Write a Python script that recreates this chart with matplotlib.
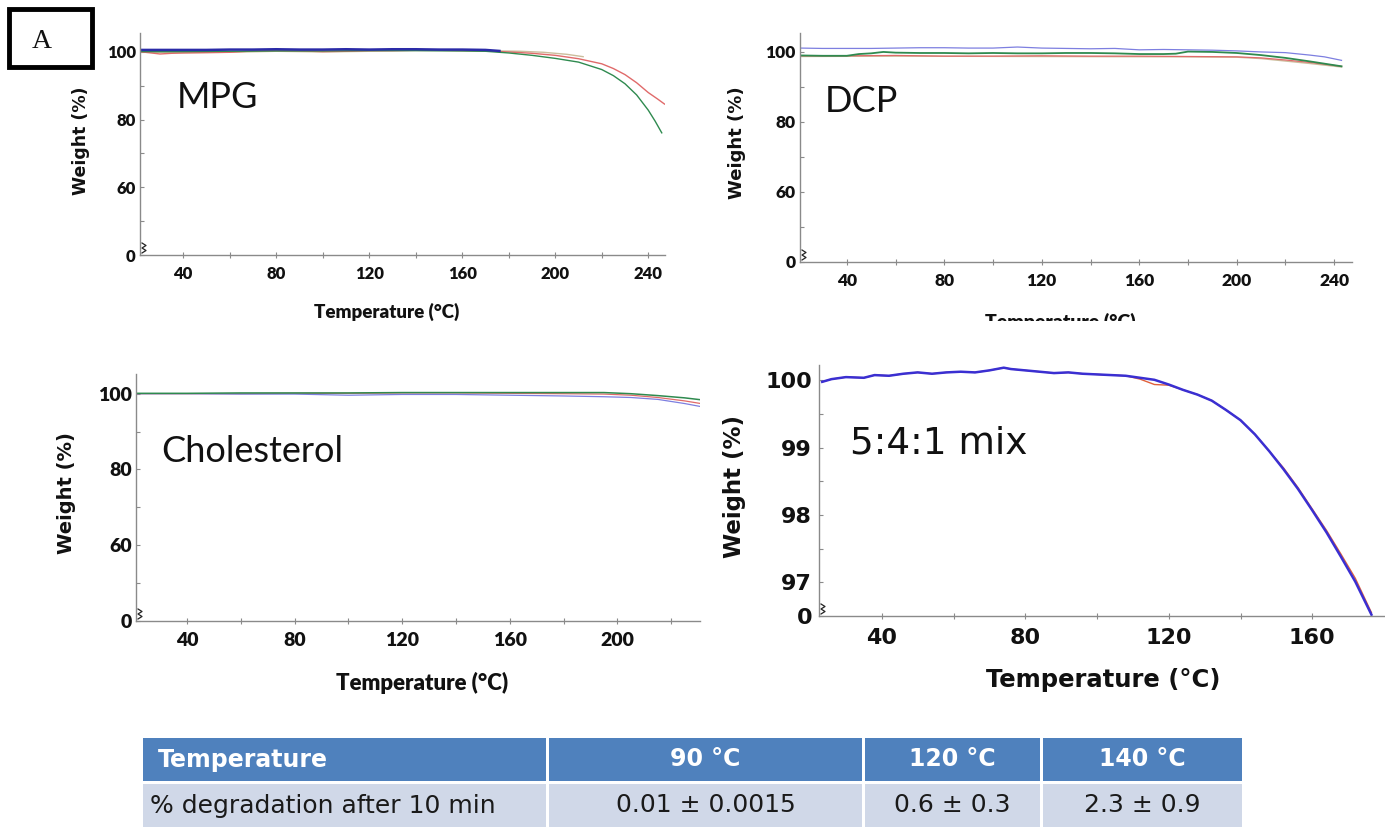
import matplotlib
matplotlib.use("Agg")
import matplotlib.pyplot as plt
from matplotlib.patches import Rectangle
from matplotlib.transforms import Bbox, TransformedBbox

W, H = 1385, 827

# ---------------- data ----------------
# MPG
mpg_blue_T = [22, 30, 40, 50, 60, 70, 80, 90, 100, 110, 120, 130, 140, 150, 160, 170, 176]
mpg_blue_W = [100.6, 100.6, 100.6, 100.6, 100.7, 100.7, 100.8, 100.7, 100.7, 100.8, 100.7, 100.8, 100.8, 100.7, 100.7, 100.6, 100.3]
mpg_red_T = [22, 25, 30, 35, 40, 50, 60, 70, 80, 90, 100, 110, 120, 130, 140, 150, 160, 170, 180, 190, 200, 210, 220, 225, 230, 235, 240, 244, 247]
mpg_red_W = [100.0, 99.8, 99.4, 99.6, 99.7, 99.8, 99.9, 100.3, 100.4, 100.3, 100.1, 100.2, 100.4, 100.4, 100.5, 100.5, 100.4, 100.3, 100.0, 99.6, 99.0, 98.0, 96.5, 95.1, 93.3, 90.9, 88.0, 86.1, 84.6]
mpg_green_T = [22, 40, 60, 80, 100, 120, 140, 160, 170, 180, 190, 200, 210, 220, 225, 230, 235, 240, 243, 245.8]
mpg_green_W = [100.1, 100.1, 100.2, 100.3, 100.3, 100.4, 100.4, 100.3, 100.2, 99.7, 99.0, 98.1, 97.0, 94.8, 93.0, 90.6, 87.3, 82.8, 79.5, 76.1]
mpg_tan_T = [22, 40, 60, 80, 100, 120, 140, 160, 175, 185, 195, 205, 212]
mpg_tan_W = [99.9, 99.8, 99.9, 100.2, 100.0, 100.2, 100.4, 100.4, 100.3, 100.2, 99.9, 99.3, 98.6]

# DCP
dcp_blue_T = [21, 30, 40, 50, 60, 70, 80, 90, 100, 110, 120, 130, 140, 150, 160, 170, 180, 190, 200, 210, 220, 230, 236, 243]
dcp_blue_W = [101.0, 100.9, 100.9, 100.9, 101.0, 101.1, 101.1, 101.0, 101.0, 101.3, 101.0, 100.9, 100.8, 100.9, 100.5, 100.6, 100.5, 100.4, 100.2, 99.9, 99.7, 99.0, 98.5, 97.5]
dcp_green_T = [21, 30, 40, 45, 50, 55, 60, 70, 80, 90, 100, 110, 120, 130, 140, 150, 160, 170, 175, 180, 190, 200, 210, 220, 230, 243]
dcp_green_W = [98.9, 98.8, 98.8, 99.3, 99.5, 99.9, 99.7, 99.6, 99.6, 99.5, 99.6, 99.5, 99.5, 99.6, 99.6, 99.5, 99.3, 99.3, 99.4, 100.0, 99.9, 99.6, 99.0, 98.2, 97.2, 95.8]
dcp_red_T = [21, 40, 60, 80, 100, 120, 140, 160, 180, 200, 210, 220, 230, 243]
dcp_red_W = [98.8, 98.8, 98.9, 98.7, 98.7, 98.8, 98.7, 98.7, 98.6, 98.5, 98.2, 97.6, 96.9, 95.8]
dcp_tan_T = [21, 60, 120, 180, 200, 210, 220, 230, 243]
dcp_tan_W = [98.6, 98.7, 98.6, 98.5, 98.4, 98.0, 97.3, 96.6, 95.6]

# Cholesterol
chol_T = [21, 40, 60, 80, 100, 120, 140, 160, 180, 195, 205, 215, 225, 231]
chol_green_W = [100.1, 100.1, 100.2, 100.2, 100.2, 100.3, 100.3, 100.3, 100.3, 100.3, 100.0, 99.5, 98.9, 98.4]
chol_red_W = [100.0, 100.0, 100.0, 100.1, 100.1, 100.2, 100.2, 100.1, 100.0, 99.9, 99.6, 99.0, 98.1, 97.4]
chol_blue_W = [100.0, 100.0, 99.9, 99.9, 99.6, 99.8, 99.8, 99.6, 99.4, 99.2, 99.0, 98.5, 97.4, 96.6]

# 5:4:1 mix
mix_T = [23.4, 26, 30, 35, 38, 42, 46, 50, 54, 58, 62, 66, 70, 74, 76, 80, 84, 88, 92, 96, 100, 104, 108, 112, 116, 120, 124, 128, 132, 136, 140, 144, 148, 152, 156, 160, 164, 168, 172, 176.5]
mix_blue_W = [99.98, 100.02, 100.05, 100.04, 100.08, 100.07, 100.10, 100.12, 100.10, 100.12, 100.13, 100.12, 100.15, 100.19, 100.17, 100.15, 100.13, 100.11, 100.12, 100.10, 100.09, 100.08, 100.07, 100.04, 100.01, 99.94, 99.86, 99.79, 99.70, 99.56, 99.41, 99.20, 98.95, 98.68, 98.39, 98.07, 97.74, 97.38, 97.01, 96.52]
mix_red_W = [99.98, 100.02, 100.05, 100.04, 100.08, 100.07, 100.10, 100.12, 100.10, 100.12, 100.13, 100.12, 100.15, 100.19, 100.17, 100.15, 100.13, 100.11, 100.12, 100.10, 100.09, 100.08, 100.07, 100.02, 99.94, 99.93, 99.86, 99.79, 99.70, 99.56, 99.41, 99.20, 98.95, 98.70, 98.41, 98.09, 97.77, 97.42, 97.06, 96.55]

panel_names = ["MPG", "DCP", "Cholesterol", "5:4:1 mix"]

table_header = ["Temperature", "90 °C", "120 °C", "140 °C"]
table_row = ["% degradation after 10 min", "0.01 ± 0.0015", "0.6 ± 0.3", "2.3 ± 0.9"]

# ---------------- helpers ----------------
fig = plt.figure(figsize=(W / 100, H / 100), dpi=100)


def fx(x):
    return x / W


def fy(y):
    return 1 - y / H


def make_ax(left, right, top, bottom):
    return fig.add_axes([fx(left), fy(bottom), (right - left) / W, (bottom - top) / H])


SPINE = "#8a8a8a"
BLUE = "#2b2ba8"
LBLUE = "#7d7fe0"
RED = "#e06a6a"
GREEN = "#2f8a4f"
TAN = "#cbbd9c"


def style_ax(ax, xlim, ylim, xticks, xminor, yticks, ylabels, yminor, tick_size, tick_font="Lato",
             tick_weight="heavy", xpad=6, ypad=3):
    ax.set_xlim(*xlim)
    ax.set_ylim(*ylim)
    for s in ["top", "right"]:
        ax.spines[s].set_visible(False)
    for s in ["left", "bottom"]:
        ax.spines[s].set_color(SPINE)
        ax.spines[s].set_linewidth(1.0)
    ax.set_xticks(xticks)
    ax.set_xticks(xminor, minor=True)
    ax.set_yticks(yticks)
    ax.set_yticklabels(ylabels)
    ax.set_yticks(yminor, minor=True)
    ax.tick_params(which="both", color=SPINE, width=0.8)
    ax.tick_params(axis="x", which="both", direction="inout", length=4, pad=xpad)
    ax.tick_params(axis="y", which="both", direction="in", length=3, pad=ypad)
    for lab in ax.get_xticklabels() + ax.get_yticklabels():
        lab.set_fontfamily(tick_font)
        lab.set_fontweight(tick_weight)
        lab.set_fontsize(tick_size)
        lab.set_color("#111111")
    # small axis-break squiggle at the bottom of the y axis (about 10 px tall)
    bb = ax.get_position()
    wpx, hpx = bb.width * W, bb.height * H
    sx = [2, 6, 2, 6, 2]
    sy = [2, 4.5, 7, 9.5, 12]
    ax.plot([v / wpx for v in sx], [v / hpx for v in sy], transform=ax.transAxes,
            color="#222222", lw=0.9, clip_on=False)
    ax.patch.set_alpha(0)


# ---------------- Panel 1: MPG ----------------
ax1 = make_ax(140, 665, 33, 255)
ax1.plot(mpg_tan_T, mpg_tan_W, color=TAN, lw=1.0)
ax1.plot(mpg_red_T, mpg_red_W, color=RED, lw=1.0)
ax1.plot(mpg_green_T, mpg_green_W, color=GREEN, lw=1.0)
ax1.plot(mpg_blue_T, mpg_blue_W, color=BLUE, lw=1.8)
style_ax(ax1, (21.4, 247.2), (40, 105.6), [40, 80, 120, 160, 200, 240], [60, 100, 140, 180, 220],
         [40, 60, 80, 100], ["0", "60", "80", "100"], [50, 70, 90], 12)
fig.text(fx(387), fy(312), "Temperature (°C)", ha="center", va="center", fontfamily="Lato",
         fontweight="heavy", fontsize=13.5, color="#111111")
fig.text(fx(81), fy(141), "Weight (%)", ha="center", va="center", rotation=90, fontfamily="DejaVu Sans",
         fontweight="bold", fontsize=12.5, color="#111111")
fig.text(fx(177), fy(97), panel_names[0], ha="left", va="center", fontfamily="Lato", fontsize=26, color="#111111")

# ---------------- Panel 2: DCP ----------------
ax2 = make_ax(800, 1352, 33, 262)
ax2.plot(dcp_tan_T, dcp_tan_W, color=TAN, lw=1.0)
ax2.plot(dcp_red_T, dcp_red_W, color=RED, lw=0.9)
ax2.plot(dcp_blue_T, dcp_blue_W, color=LBLUE, lw=0.9)
ax2.plot(dcp_green_T, dcp_green_W, color=GREEN, lw=1.3)
style_ax(ax2, (20.8, 247.3), (40, 105.3), [40, 80, 120, 160, 200, 240], [60, 100, 140, 180, 220],
         [40, 60, 80, 100], ["0", "60", "80", "100"], [50, 70, 90], 12.5)
t2 = fig.text(fx(1060), fy(322), "Temperature (°C)", ha="center", va="center", fontfamily="Lato",
              fontweight="heavy", fontsize=14, color="#111111")
t2.set_clip_box(TransformedBbox(Bbox([[0, fy(321)], [1, 1]]), fig.transFigure))
t2.set_clip_on(True)
fig.text(fx(737), fy(143), "Weight (%)", ha="center", va="center", rotation=90, fontfamily="DejaVu Sans",
         fontweight="bold", fontsize=13, color="#111111")
fig.text(fx(825), fy(101), panel_names[1], ha="left", va="center", fontfamily="Lato", fontsize=26, color="#111111")

# ---------------- Panel 3: Cholesterol ----------------
ax3 = make_ax(136, 700, 374, 621)
ax3.plot(chol_T, chol_red_W, color=RED, lw=0.9)
ax3.plot(chol_T, chol_blue_W, color=LBLUE, lw=0.9)
ax3.plot(chol_T, chol_green_W, color=GREEN, lw=1.1)
style_ax(ax3, (21, 230.7), (40, 105.2), [40, 80, 120, 160, 200], [60, 100, 140, 180, 220],
         [40, 60, 80, 100], ["0", "60", "80", "100"], [50, 70, 90], 14)
fig.text(fx(422), fy(683), "Temperature (°C)", ha="center", va="center", fontfamily="Lato",
         fontweight="heavy", fontsize=16, color="#111111")
fig.text(fx(67), fy(493), "Weight (%)", ha="center", va="center", rotation=90, fontfamily="DejaVu Sans",
         fontweight="bold", fontsize=14, color="#111111")
fig.text(fx(161), fy(452), panel_names[2], ha="left", va="center", fontfamily="Lato", fontsize=26, color="#111111")

# ---------------- Panel 4: 5:4:1 mix ----------------
ax4 = make_ax(819, 1384, 365, 616)
ax4.plot(mix_T, mix_red_W, color="#e0603a", lw=1.0)
ax4.plot(mix_T, mix_blue_W, color="#3a2fd2", lw=1.8)
style_ax(ax4, (22.5, 180), (96.5, 100.23), [40, 80, 120, 160], [60, 100, 140],
         [96.5, 97, 98, 99, 100], ["0", "97", "98", "99", "100"], [97.5, 98.5, 99.5], 16,
         tick_font="DejaVu Sans", tick_weight="bold", xpad=7, ypad=5)
fig.text(fx(1103), fy(680), "Temperature (°C)", ha="center", va="center", fontfamily="DejaVu Sans",
         fontweight="bold", fontsize=17.5, color="#111111")
fig.text(fx(734), fy(487), "Weight (%)", ha="center", va="center", rotation=90, fontfamily="DejaVu Sans",
         fontweight="bold", fontsize=16.5, color="#111111")
fig.text(fx(850), fy(443), panel_names[3], ha="left", va="center", fontfamily="DejaVu Sans", fontsize=27, color="#111111")

# ---------------- "A" label box ----------------
fig.patches.append(Rectangle((fx(9), fy(67)), (92 - 9) / W, (67 - 9) / H, transform=fig.transFigure,
                             fill=False, edgecolor="black", linewidth=3.5))
fig.text(fx(42), fy(42), "A", ha="center", va="center", fontfamily="Liberation Serif", fontsize=20, color="#111111")

# ---------------- Table ----------------
col_edges = [(143, 546), (549, 862), (865, 1040), (1043, 1242)]
rows = [(738, 781, "#4F81BD", table_header, "white", "bold", 158, 17),
        (784, 827, "#D0D8E8", table_row, "#1a1a1a", "normal", 150, 18)]
for top, bot, fc, texts, tc, fw, x0, fs in rows:
    for i, (l, r) in enumerate(col_edges):
        fig.patches.append(Rectangle((fx(l), fy(bot)), (r - l) / W, (bot - top) / H,
                                     transform=fig.transFigure, facecolor=fc, edgecolor="none"))
        if i == 0:
            fig.text(fx(x0), fy((top + bot) / 2), texts[i], ha="left", va="center",
                     fontfamily="DejaVu Sans", fontweight=fw, fontsize=fs, color=tc)
        else:
            fig.text(fx((l + r) / 2), fy((top + bot) / 2), texts[i], ha="center", va="center",
                     fontfamily="DejaVu Sans", fontweight=fw, fontsize=fs, color=tc)

fig.savefig("out.png", dpi=100)
